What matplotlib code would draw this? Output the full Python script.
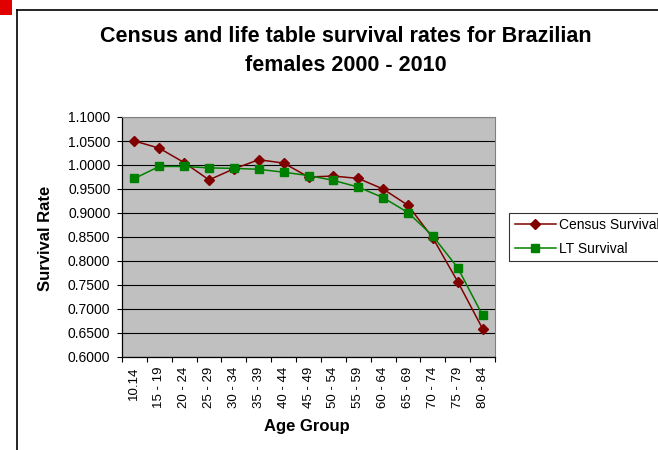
import matplotlib
matplotlib.use("Agg")
import matplotlib.pyplot as plt
from matplotlib.patches import Rectangle
from matplotlib.lines import Line2D
from matplotlib.ticker import FormatStrFormatter, FixedLocator, NullFormatter
import numpy as np

plt.rcParams['font.family'] = ['Liberation Sans', 'DejaVu Sans']

age_groups = ["10.14", "15 - 19", "20 - 24", "25 - 29", "30 - 34", "35 - 39", "40 - 44",
              "45 - 49", "50 - 54", "55 - 59", "60 - 64", "65 - 69", "70 - 74", "75 - 79", "80 - 84"]
census_survival = [1.050, 1.035, 1.005, 0.969, 0.992, 1.011, 1.004,
                   0.975, 0.977, 0.972, 0.950, 0.916, 0.848, 0.757, 0.659]
lt_survival = [0.972, 0.997, 0.997, 0.994, 0.993, 0.991, 0.985,
               0.978, 0.968, 0.954, 0.932, 0.901, 0.852, 0.786, 0.687]

W, H = 658, 450
fig = plt.figure(figsize=(W / 100, H / 100), dpi=100)

# outer chart frame and red corner mark
fig.patches.append(Rectangle((0, 1 - 15 / H), 12 / W, 15 / H, transform=fig.transFigure,
                             facecolor="#E00000", edgecolor="none", zorder=0))
fig.lines.append(Line2D([16.5 / W, 16.5 / W], [0, 1 - 10 / H], transform=fig.transFigure,
                        color="black", lw=1.2))
fig.lines.append(Line2D([16.5 / W, 1], [1 - 10 / H, 1 - 10 / H], transform=fig.transFigure,
                        color="black", lw=1.2))

left, right, top, bottom = 122, 495, 117, 357
ax = fig.add_axes([left / W, 1 - bottom / H, (right - left) / W, (bottom - top) / H])
ax.set_facecolor("#C0C0C0")

x = np.arange(len(age_groups))
ax.plot(x, census_survival, color="#800000", marker="D", markersize=5, lw=1.1,
        label="Census Survival", zorder=3)
ax.plot(x, lt_survival, color="#008000", marker="s", markersize=5.2, lw=1.1,
        label="LT Survival", zorder=3)

ax.set_xlim(-0.5, len(age_groups) - 0.5)
ax.set_ylim(0.6, 1.1)
ax.set_yticks(np.arange(0.6, 1.1001, 0.05))
ax.yaxis.set_major_formatter(FormatStrFormatter("%.4f"))
ax.grid(axis="y", color="black", lw=0.8)
ax.set_axisbelow(True)

ax.xaxis.set_major_locator(FixedLocator(np.arange(-0.5, len(age_groups), 1.0)))
ax.xaxis.set_major_formatter(NullFormatter())
ax.xaxis.set_minor_locator(FixedLocator(x))
ax.set_xticklabels(age_groups, minor=True, rotation=90, fontsize=9.5)
ax.tick_params(axis="x", which="minor", length=0, pad=7)
ax.tick_params(axis="x", which="major", length=3.3, width=0.8, direction="out")
ax.tick_params(axis="y", length=3.3, width=0.8, direction="out", labelsize=10, pad=5)

for s in ["top", "right"]:
    ax.spines[s].set_color("#808080")
    ax.spines[s].set_linewidth(0.8)
for s in ["left", "bottom"]:
    ax.spines[s].set_color("black")
    ax.spines[s].set_linewidth(0.9)

fig.text(307 / W, 1 - 426 / H, "Age Group", ha="center", va="center",
         fontsize=12, fontweight="bold")
fig.text(46 / W, 1 - 238 / H, "Survival Rate", ha="center", va="center",
         rotation=90, fontsize=12, fontweight="bold")

fig.text(346 / W, 1 - 51 / H, "Census and life table survival rates for Brazilian\nfemales 2000 - 2010",
         ha="center", va="center", fontsize=15.5, fontweight="bold", linespacing=1.45)

leg = fig.legend(loc="upper left", bbox_to_anchor=(509 / W, 1 - 212.5 / H),
                 bbox_transform=fig.transFigure, frameon=True, fancybox=False,
                 edgecolor="black", fontsize=10, handlelength=3.0, borderpad=0.4,
                 labelspacing=0.7, handletextpad=0.2, borderaxespad=0)
leg.get_frame().set_linewidth(0.8)

fig.savefig("out.png", dpi=100)
